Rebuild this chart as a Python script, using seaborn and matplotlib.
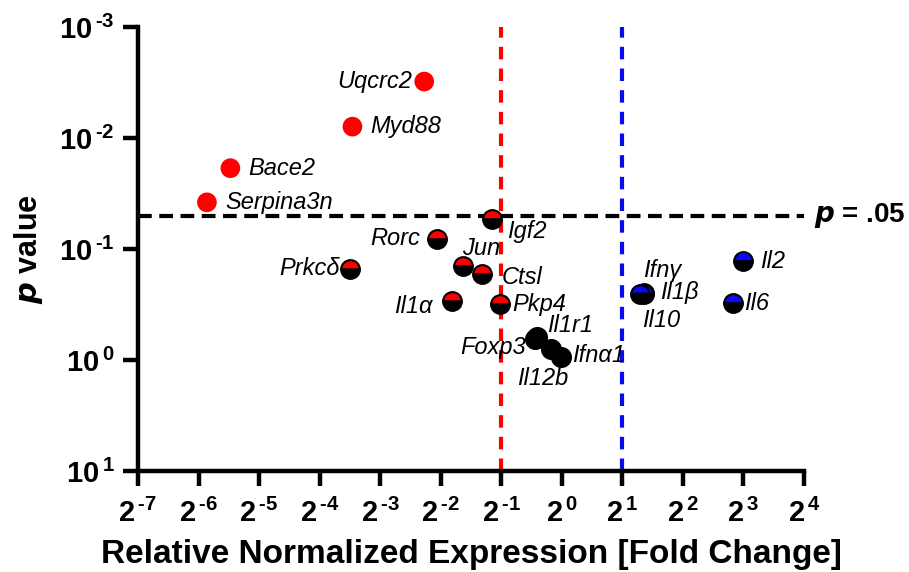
import numpy as np
import pandas as pd
import matplotlib
matplotlib.use("Agg")
import matplotlib.pyplot as plt
import seaborn as sns

# ---------------- data ----------------
sig_genes = ["Uqcrc2", "Myd88", "Bace2", "Serpina3n"]
sig_fold = [0.207, 0.091, 0.0225, 0.0172]
sig_p = [0.0031, 0.0079, 0.0187, 0.038]

down_genes = ["Igf2", "Rorc", "Prkcδ", "Jun", "Ctsl", "Il1α", "Pkp4"]
down_fold = [0.450, 0.240, 0.088, 0.321, 0.403, 0.285, 0.490]
down_p = [0.054, 0.0805, 0.150, 0.141, 0.169, 0.296, 0.316]

ns_genes = ["Il1r1", "Foxp3", "Il12b", "Ifnα1"]
ns_fold = [0.755, 0.738, 0.886, 0.995]
ns_p = [0.62, 0.65, 0.80, 0.94]

up_genes = ["Ifnγ", "Il1β", "Il10", "Il2", "Il6"]
up_fold = [2.57, 2.55, 2.46, 8.0, 7.06]
up_p = [0.25, 0.252, 0.256, 0.129, 0.309]

x_exponents = list(range(-7, 5))
y_exponents = list(range(-3, 2))
p_threshold = 0.05
fold_down = 0.5
fold_up = 2.0


def sup_label(base, e):
    es = str(e).replace("-", "\u2010")
    return r"${\mathbf{%s}\hspace{0.14}}^{\mathbf{%s}}$" % (base, es)


x_ticks = [2.0 ** k for k in x_exponents]
x_ticklabels = [sup_label("2", k) for k in x_exponents]
y_ticks = [10.0 ** k for k in y_exponents]
y_ticklabels = [sup_label("10", k) for k in y_exponents]

# label offsets (points) and alignment
offsets = {
    "Uqcrc2": (-9, 0, "right"), "Myd88": (13, 0, "left"), "Bace2": (13, 0, "left"),
    "Serpina3n": (13, 0, "left"), "Igf2": (11, -9, "left"), "Rorc": (-12, 0, "right"),
    "Prkcδ": (-7, 0, "right"), "Jun": (0, 12, "left"), "Ctsl": (14, -2, "left"),
    "Il1α": (-14, -4, "right"), "Pkp4": (9, 0, "left"), "Il1r1": (7, 8, "left"),
    "Foxp3": (-7, -6, "right"), "Il12b": (-6, -21, "center"), "Ifnα1": (8, 1, "left"),
    "Ifnγ": (-1, 16, "left"), "Il1β": (12, 1, "left"), "Il10": (1, -19, "left"),
    "Il2": (12, 0, "left"), "Il6": (8, 0, "left"),
}

RED = "#FF0000"
BLUE = "#0A0AF0"

sns.set_style("white")
plt.rcParams["font.family"] = ["Liberation Sans", "DejaVu Sans"]
plt.rcParams["text.color"] = "black"
plt.rcParams["axes.labelcolor"] = "black"
plt.rcParams["xtick.color"] = "black"
plt.rcParams["ytick.color"] = "black"
plt.rcParams["mathtext.fontset"] = "custom"
plt.rcParams["mathtext.rm"] = "Liberation Sans"
plt.rcParams["mathtext.bf"] = "Liberation Sans:bold"
plt.rcParams["mathtext.it"] = "Liberation Sans:italic"

fig = plt.figure(figsize=(9.09, 5.72), dpi=100)
ax = fig.add_axes([0.1518, 0.1766, 0.7327, 0.7762])

ax.set_xscale("log", base=2)
ax.set_yscale("log")

# threshold lines
ax.axvline(fold_down, color=RED, lw=3, ls=(0, (3, 2.2)), zorder=1)
ax.axvline(fold_up, color=BLUE, lw=3, ls=(0, (3, 2.2)), zorder=1)
ax.axhline(p_threshold, color="black", lw=3, ls=(0, (3.3, 1.8)), zorder=1)

# significant points: fully red
sig_df = pd.DataFrame({"fold": sig_fold, "p": sig_p})
sns.scatterplot(data=sig_df, x="fold", y="p", ax=ax, color=RED, s=200,
                edgecolor="none", zorder=3, legend=False)

# non significant: black full circles
ns_df = pd.DataFrame({"fold": ns_fold, "p": ns_p})
sns.scatterplot(data=ns_df, x="fold", y="p", ax=ax, color="black", s=200,
                edgecolor="black", linewidth=1, zorder=3, legend=False)

# half-filled markers
ax.plot(down_fold, down_p, ls="none", marker="o", markersize=13.5,
        fillstyle="top", markerfacecolor=RED, markerfacecoloralt="black",
        markeredgecolor="black", markeredgewidth=1.5, zorder=4)
ax.plot(up_fold, up_p, ls="none", marker="o", markersize=13.5,
        fillstyle="top", markerfacecolor=BLUE, markerfacecoloralt="black",
        markeredgecolor="black", markeredgewidth=1.5, zorder=4)

for genes, fx, py in [(sig_genes, sig_fold, sig_p), (down_genes, down_fold, down_p),
                      (ns_genes, ns_fold, ns_p), (up_genes, up_fold, up_p)]:
    for g, xv, yv in zip(genes, fx, py):
        dx, dy, ha = offsets[g]
        ax.annotate(g, (xv, yv), xytext=(dx, dy), textcoords="offset points",
                    ha=ha, va="center", fontsize=17, style="italic", color="black",
                    family=["Liberation Sans", "DejaVu Sans"], zorder=5)

ax.set_xlim(2.0 ** -7, 2.0 ** 4)
ax.set_ylim(10, 1e-3)
ax.set_xticks(x_ticks)
ax.set_xticklabels(x_ticklabels)
ax.set_yticks(y_ticks)
ax.set_yticklabels(y_ticklabels)
ax.minorticks_off()
ax.tick_params(axis="both", which="major", length=11, width=3.2, labelsize=21,
               direction="out", color="black", labelcolor="black",
               bottom=True, left=True)
ax.tick_params(axis="x", pad=9)
ax.tick_params(axis="y", pad=6)

for side in ["top", "right"]:
    ax.spines[side].set_visible(False)
for side in ["left", "bottom"]:
    ax.spines[side].set_linewidth(3.2)
    ax.spines[side].set_color("black")

ax.set_xlabel("Relative Normalized Expression [Fold Change]", fontsize=24,
              fontweight="bold", labelpad=8, color="black")
ax.set_ylabel(r"$\mathbfit{p}$ value", fontsize=22, fontweight="bold",
              labelpad=10, color="black")

ax.annotate(r"$\mathbfit{p}$ = .05", xy=(1.0, p_threshold), xycoords=("axes fraction", "data"),
            xytext=(7, 0), textcoords="offset points", ha="left", va="center",
            fontsize=20, fontweight="bold", color="black", annotation_clip=False)

fig.savefig("out.png", dpi=100)
